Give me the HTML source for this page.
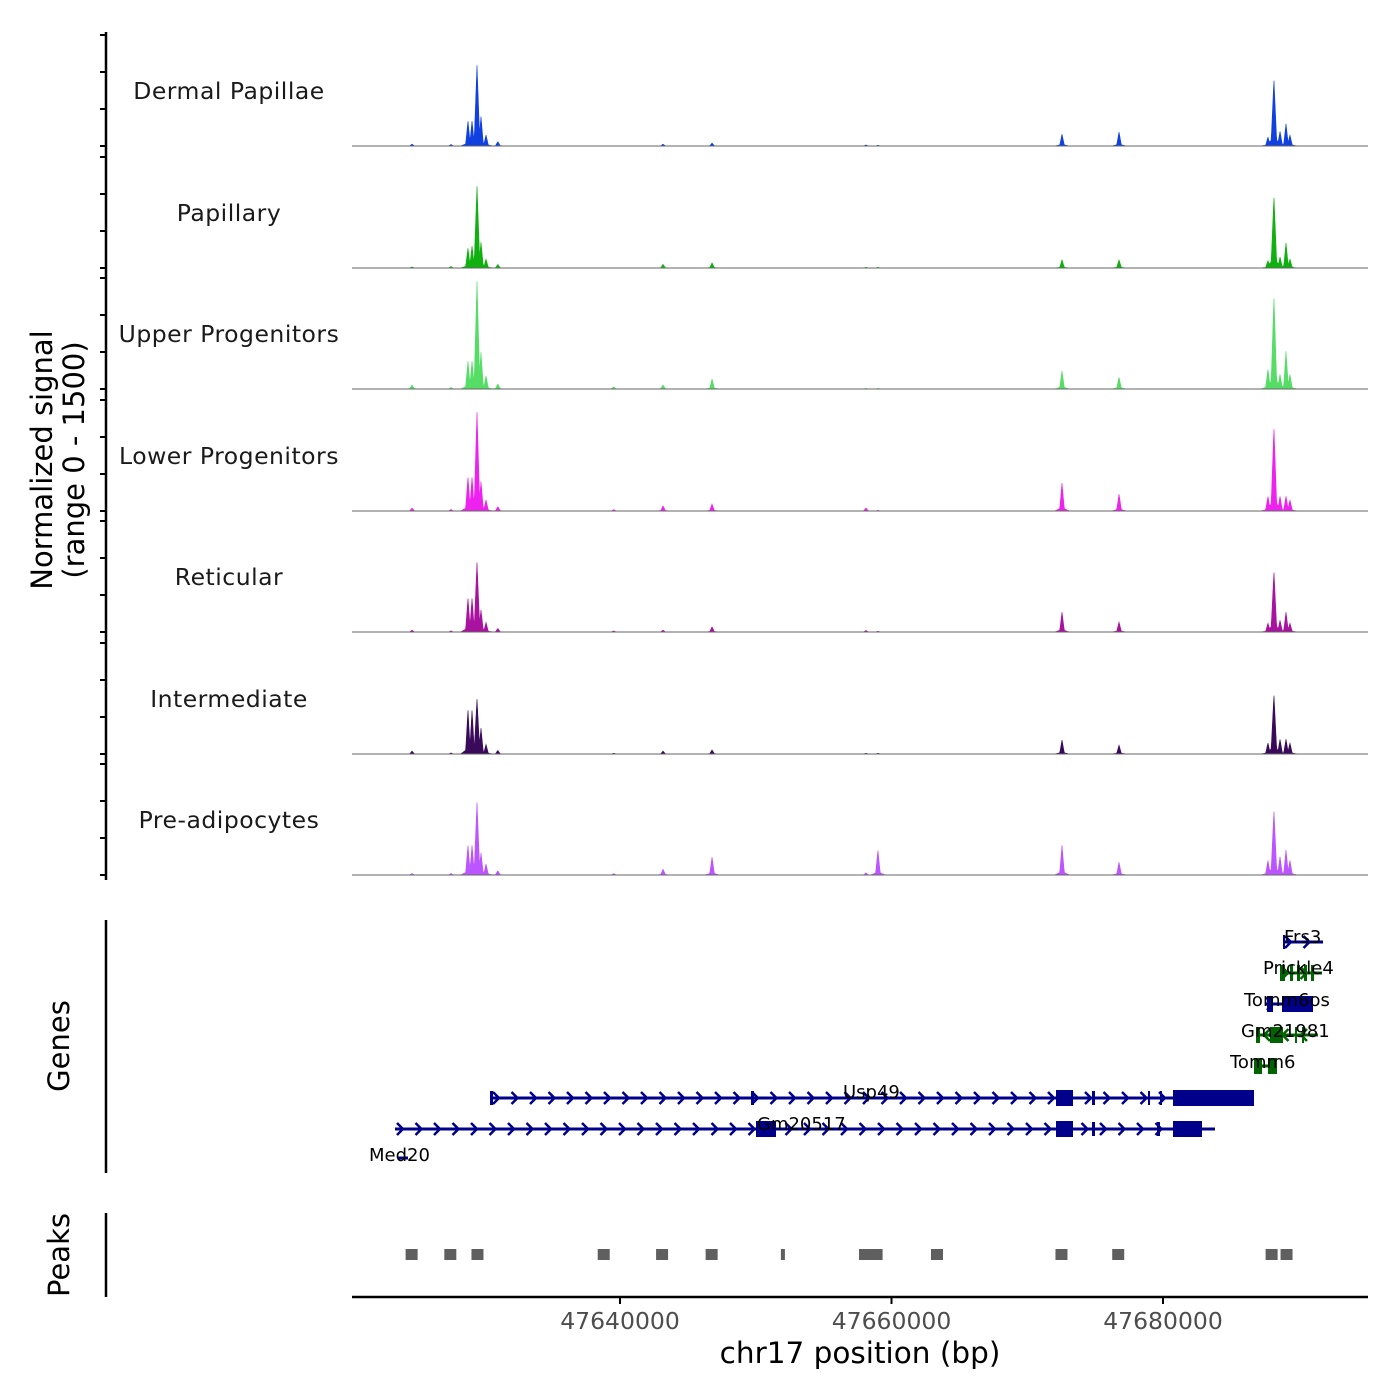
<!DOCTYPE html>
<html><head><meta charset="utf-8"><style>
body{margin:0;background:#fff}
svg{display:block;font-family:"DejaVu Sans","Liberation Sans",sans-serif}
</style></head><body>
<svg id="chart" width="1400" height="1400" viewBox="0 0 1400 1400" xmlns="http://www.w3.org/2000/svg"></svg>
<script>
const trackNames=["Dermal Papillae","Papillary","Upper Progenitors","Lower Progenitors","Reticular","Intermediate","Pre-adipocytes"];
const trackColors=["#1040e0","#10b010","#55dd66","#ee22ee","#a8129f","#3a0a5a","#bb55ff"];
// peak positions (bp)
const peakPos=[47624680,47627550,47628800,47629100,47629465,47629760,47630130,47631000,47639540,47643170,47646780,47658120,47659000,47672560,47676760,47687730,47688170,47688620,47689060,47689350];
// signal values per track (0-1500), aligned with peakPos
const sigDP=[25,20,340,340,1095,400,150,60,0,25,40,15,10,160,190,120,905,200,300,150];
const sigPap=[15,20,270,300,1110,350,120,50,0,50,70,10,10,110,110,100,975,150,340,120];
const sigUP=[55,20,380,380,1460,500,180,70,30,55,135,10,10,245,160,270,1255,200,510,200];
const sigLP=[40,20,460,460,1340,400,150,60,20,70,95,40,10,380,230,200,1135,200,200,150];
const sigRet=[25,15,460,460,945,300,130,50,15,25,70,20,10,270,135,120,825,160,270,120];
const sigInt=[40,15,600,595,745,350,130,50,10,40,55,10,10,190,120,150,810,200,200,150];
const sigPre=[20,20,405,405,985,300,150,60,20,80,245,30,340,405,175,200,880,250,340,200];
const signals=[sigDP,sigPap,sigUP,sigLP,sigRet,sigInt,sigPre];
const xTicks=[47640000,47660000,47680000];
const peakRegions=[47624650,47627500,47629500,47638800,47643100,47646750,47652000,47658050,47658900,47663350,47672520,47676700,47688000,47689100];

const NS="http://www.w3.org/2000/svg";
const svg=document.getElementById('chart');
const X0=352,X1=1368,BP0=47620258,BP1=47695100;
const xs=bp=>X0+(bp-BP0)/(BP1-BP0)*(X1-X0);
const baselines=[146,268,389,511,632,754,875];
const ys=(v,b)=>b-v*111/1500;
function el(t,a,p){const e=document.createElementNS(NS,t);for(const k in a)e.setAttribute(k,a[k]);(p||svg).appendChild(e);return e;}

let ax=el('line',{x1:106,y1:32,x2:106,y2:880,stroke:'#000','stroke-width':2.5});


baselines.forEach((b,i)=>{
  for(let k=0;k<4;k++){const yy=ys(k*500,b);const t=el('line',{x1:100,y1:yy,x2:106,y2:yy,stroke:'#000','stroke-width':2});
  
  }
  const vals=signals[i];
  let pts=[[X0,b]];
  for(let x=X0;x<=X1;x+=0.5){
    let s=0;
    peakPos.forEach((p,j)=>{const d=Math.abs(x-xs(p));const w=(j==4||j==16)?3:2.5;
      if(d<w)s=Math.max(s,vals[j]*(1-d/w));
      const sh=vals[j]*0.12, ws=w*3; if(d<ws)s=Math.max(s,sh*(1-d/ws));});
    pts.push([x,ys(s,b)]);
  }
  pts.push([X1,b]);
  const poly=el('polygon',{points:pts.map(p=>p[0].toFixed(1)+','+p[1].toFixed(1)).join(' '),fill:trackColors[i],stroke:trackColors[i],'stroke-width':0.6});
  
  
  const bl=el('line',{x1:X0,y1:b,x2:X1,y2:b,stroke:'#666','stroke-width':1});
  
  
  const lb=el('text',{x:229,y:b-47,'text-anchor':'middle','font-size':23.5,fill:'#1a1a1a','letter-spacing':0.5});
  lb.textContent=trackNames[i];
  
  
});
let yt=el('text',{transform:'translate(52,460) rotate(-90)','text-anchor':'middle','font-size':29});
yt.textContent='Normalized signal';


let yt2=el('text',{transform:'translate(84,460) rotate(-90)','text-anchor':'middle','font-size':29});
yt2.textContent='(range 0 - 1500)';



let ga=el('line',{x1:106,y1:920,x2:106,y2:1173,stroke:'#000','stroke-width':2.5});


let gt=el('text',{transform:'translate(69,1046) rotate(-90)','text-anchor':'middle','font-size':29});
gt.textContent='Genes';


function gene(name,y,x1,x2,blocks,col,lx,ly,dir){
  const g=el('g',{});
  
  
  el('line',{x1:x1,y1:y,x2:x2,y2:y,stroke:col,'stroke-width':3},g);
  for(let x=x1+8;x<x2-2;x+=18.5){const d=dir*6;el('polyline',{points:`${x-d},${y-6} ${x},${y} ${x-d},${y+6}`,fill:'none',stroke:col,'stroke-width':2.5},g);}
  blocks.forEach(b=>el('rect',{x:b[0],y:y-(b[2]||8),width:b[1]-b[0],height:2*(b[2]||8),fill:col},g));
  const t=el('text',{x:lx,y:ly,'font-size':18,fill:'#000'},g);t.textContent=name;
}
gene('Usp49',1098,491,1254,[[490,493,7],[751,754,7],[1056,1073],[1092,1095,7],[1148,1150,7],[1160,1162,7],[1173,1254]],'#00008b',843,1098,1);
gene('Gm20517',1129,395,1215,[[756,776],[1056,1073],[1092,1095,7],[1157,1160,7],[1173,1202]],'#00008b',757,1130,1);
gene('Med20',1158,398,408,[],'#00008b',369,1161,1);
gene('Frs3',942,1283,1323,[[1283,1285,7]],'#00008b',1284,943,1);
gene('Prickle4',973,1280,1322,[[1280,1285],[1290,1293],[1297,1300],[1304,1307],[1311,1314]],'#006400',1263,974,1);
gene('Tomm6os',1004,1265,1313,[[1267,1273],[1282,1313]],'#00008b',1244,1006,1);
gene('Gm21981',1035,1256,1318,[[1256,1260],[1270,1283],[1295,1297],[1302,1304]],'#006400',1241,1037,-1);
gene('Tomm6',1066,1254,1277,[[1254,1262],[1268,1277]],'#006400',1230,1068,1);

let pa=el('line',{x1:106,y1:1213,x2:106,y2:1297,stroke:'#000','stroke-width':2.5});


let pt=el('text',{transform:'translate(69,1255) rotate(-90)','text-anchor':'middle','font-size':29});
pt.textContent='Peaks';


peakRegions.forEach((p,i)=>{const x=xs(p);const w=i==6?4:12;const r=el('rect',{x:x-w/2,y:1249,width:w,height:11,fill:'#5f5f5f'});

});

let xa=el('line',{x1:X0,y1:1297,x2:X1,y2:1297,stroke:'#000','stroke-width':2.5});


xTicks.forEach(v=>{const x=xs(v);const t=el('line',{x1:x,y1:1297,x2:x,y2:1304,stroke:'#000','stroke-width':2});


const l=el('text',{x:x,y:1329,'text-anchor':'middle','font-size':23.5,fill:'#4d4d4d'});l.textContent=v;

});
let xt=el('text',{x:860,y:1363,'text-anchor':'middle','font-size':29.5});
xt.textContent='chr17 position (bp)';


</script>
</body></html>
